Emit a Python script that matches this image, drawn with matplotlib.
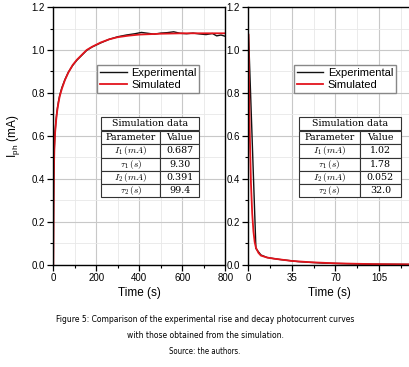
import matplotlib
matplotlib.use('Agg')
import matplotlib.pyplot as plt
from matplotlib.ticker import MultipleLocator

plt.rcParams['font.family'] = ['Liberation Sans', 'DejaVu Sans']
plt.rcParams['mathtext.fontset'] = 'cm'

# --- dados ---
rise_t_sim = [0, 1, 2, 3, 5, 8, 12, 16, 20, 25, 30, 40, 54, 70, 90, 110, 130, 155,
              180, 220, 260, 300, 350, 400, 500, 600, 700, 800]
rise_sim = [0, 0.22, 0.36, 0.45, 0.54, 0.61, 0.66, 0.70, 0.73, 0.76, 0.785, 0.82, 0.86,
            0.895, 0.93, 0.955, 0.975, 1.0, 1.015, 1.035, 1.05, 1.06, 1.067, 1.072,
            1.076, 1.078, 1.078, 1.078]

rise_t_exp = [0, 1, 2, 3, 5, 8, 12, 16, 20, 25, 30, 40, 54, 70, 90, 110, 130, 155, 180,
              220, 260, 300, 340, 380, 410, 440, 470, 500, 530, 560, 590, 620, 650, 680,
              710, 740, 760, 780, 800]
rise_exp = [0, 0.24, 0.38, 0.46, 0.55, 0.615, 0.665, 0.705, 0.735, 0.765, 0.79, 0.825,
            0.862, 0.897, 0.928, 0.953, 0.973, 0.998, 1.014, 1.033, 1.05, 1.062, 1.07,
            1.076, 1.082, 1.078, 1.074, 1.079, 1.081, 1.085, 1.078, 1.076, 1.079, 1.075,
            1.072, 1.077, 1.066, 1.07, 1.064]

decay_t_sim = [0, 1, 2, 3, 4, 5, 6, 8, 10, 15, 20, 35, 50, 70, 100, 130]
decay_sim = [1.072, 0.63, 0.38, 0.24, 0.155, 0.105, 0.079, 0.055, 0.042, 0.033, 0.028,
             0.017, 0.011, 0.006, 0.0023, 0.001]

decay_t_exp = [0, 0.5, 6, 10, 15, 25, 40, 60, 80, 100, 130]
decay_exp = [1.07, 1.0, 0.075, 0.045, 0.033, 0.024, 0.014, 0.007, 0.004, 0.002, 0.001]

params = ['$I_1\\,(mA)$', '$\\tau_1\\,(s)$', '$I_2\\,(mA)$', '$\\tau_2\\,(s)$']
rise_vals = ['0.687', '9.30', '0.391', '99.4']
decay_vals = ['1.02', '1.78', '0.052', '32.0']

fig = plt.figure(figsize=(4.1, 3.67), dpi=100)
ax1 = fig.add_axes([0.130, 0.279, 0.4195, 0.7016])
ax2 = fig.add_axes([0.606, 0.279, 0.394, 0.7016])


def estilo(ax, xmaj, xmin, xmax):
    ax.set_xlim(0, xmax)
    ax.set_ylim(0, 1.2)
    ax.xaxis.set_major_locator(MultipleLocator(xmaj))
    ax.xaxis.set_minor_locator(MultipleLocator(xmin))
    ax.yaxis.set_major_locator(MultipleLocator(0.2))
    ax.yaxis.set_minor_locator(MultipleLocator(0.1))
    ax.yaxis.set_major_formatter(lambda v, p: f'{v:.1f}')
    ax.grid(which='major', color='#c8c8c8', lw=0.8)
    ax.grid(which='minor', color='#e8e8e8', lw=0.6)
    ax.set_axisbelow(True)
    ax.tick_params(which='major', direction='out', length=4, width=0.9, labelsize=7, pad=2)
    ax.tick_params(which='minor', direction='out', length=2.5, width=0.8)
    for s in ax.spines.values():
        s.set_linewidth(1.0)
    ax.set_xlabel('Time (s)', fontsize=8.5, labelpad=3)


def tabela(ax, x0, w, vals):
    t = ax.table(cellText=[['Simulation data']], bbox=[x0, 0.523, w, 0.051],
                 cellLoc='center')
    t2 = ax.table(cellText=[['Parameter', 'Value']] + [[p, v] for p, v in zip(params, vals)],
                  colWidths=[0.6, 0.4], bbox=[x0, 0.261, w, 0.258], cellLoc='center')
    for tb in (t, t2):
        tb.set_zorder(5)
        tb.auto_set_font_size(False)
        for cell in tb.get_celld().values():
            cell.set_linewidth(0.8)
            cell.set_edgecolor('#333333')
            cell.PAD = 0.02
            cell.get_text().set_fontfamily(['DejaVu Serif'])
            cell.get_text().set_fontsize(6.8)


def legenda(ax, x0):
    ax.legend(loc='upper left', bbox_to_anchor=(x0, 0.774), borderaxespad=0,
              fontsize=8, fancybox=False, edgecolor='#888888', framealpha=1,
              handlelength=2.4, borderpad=0.25, labelspacing=0.15, handletextpad=0.4)


# subida
ax1.plot(rise_t_exp, rise_exp, color='#111111', lw=1.0, label='Experimental')
ax1.plot(rise_t_sim, rise_sim, color='#e3141c', lw=1.3, label='Simulated')
estilo(ax1, 200, 100, 800)
ax1.set_ylabel('I$_\\mathregular{ph}$ (mA)', fontsize=8.5, labelpad=7)
legenda(ax1, 0.256)
tabela(ax1, 0.279, 0.57, rise_vals)

# decaimento
ax2.plot(decay_t_exp, decay_exp, color='#111111', lw=1.0, label='Experimental')
ax2.plot(decay_t_sim, decay_sim, color='#e3141c', lw=1.3, label='Simulated')
estilo(ax2, 35, 17.5, 130)
ax2.spines['right'].set_visible(False)
legenda(ax2, 0.282)
tabela(ax2, 0.314, 0.628, decay_vals)

# legenda da figura
fig.text(0.5, 1 - 320 / 367, 'Figure 5: Comparison of the experimental rise and decay photocurrent curves',
         ha='center', va='center', fontsize=6.1, family='DejaVu Sans', stretch='condensed')
fig.text(0.5, 1 - 335 / 367, 'with those obtained from the simulation.',
         ha='center', va='center', fontsize=6.1, family='DejaVu Sans', stretch='condensed')
fig.text(0.5, 1 - 351 / 367, 'Source: the authors.',
         ha='center', va='center', fontsize=5.6, family='DejaVu Sans', stretch='condensed')

fig.savefig('out.png', dpi=100)
